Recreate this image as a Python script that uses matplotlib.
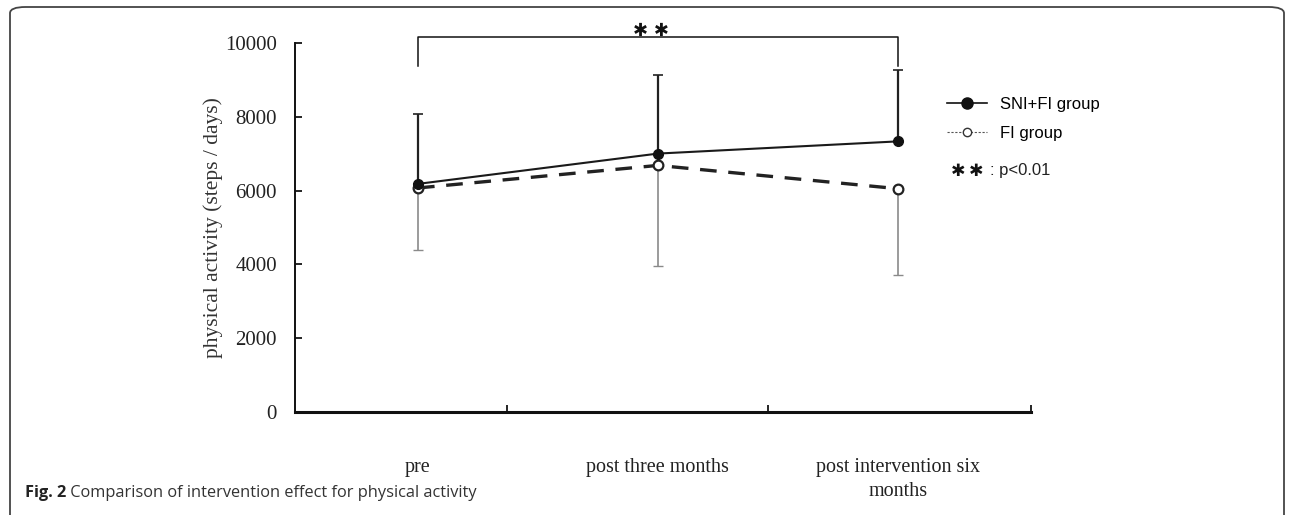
import matplotlib

matplotlib.use("Agg")
import matplotlib.pyplot as plt
from matplotlib.lines import Line2D
from matplotlib.patches import FancyBboxPatch

# values (steps / day)
categories = ["pre", "post three months", "post intervention six\nmonths"]
sni_fi_mean = [6180, 7000, 7330]
sni_fi_sd = [1880, 2130, 1940]
fi_mean = [6070, 6680, 6050]
fi_sd = [1690, 2720, 2330]
bracket_y = 10150
bracket_leg = 9380

W, H = 1292, 515
fig = plt.figure(figsize=(W / 100, H / 100), dpi=100)
ax = fig.add_axes([295 / W, 1 - 412.3 / H, 736 / W, 369.6 / H])

x = list(range(len(categories)))

# SNI+FI: solid line, filled markers, upper error bar only
ax.errorbar(
    x, sni_fi_mean,
    yerr=[[0] * 3, sni_fi_sd],
    fmt="none", ecolor="#222222", elinewidth=1.6, capsize=3.8, capthick=1.2,
    zorder=2,
)
ax.plot(x, sni_fi_mean, color="#1a1a1a", lw=1.5, marker="o", ms=7,
        mfc="#111111", mec="#111111", zorder=4)

# FI: dashed line, open markers, lower error bar only
ax.errorbar(
    x, fi_mean,
    yerr=[fi_sd, [0] * 3],
    fmt="none", ecolor="#8a8a8a", elinewidth=1.2, capsize=3.8, capthick=1.0,
    zorder=2,
)
ax.plot(x, fi_mean, color="#222222", lw=2.4, ls=(0, (5, 3.5)), marker="o",
        ms=7, mfc="white", mec="#222222", mew=1.6, zorder=3)

# significance bracket
ax.plot([x[0], x[0], x[-1], x[-1]], [bracket_leg, bracket_y, bracket_y, bracket_leg],
        color="#111111", lw=1.1, clip_on=False)
ax.text((x[0] + x[-1]) / 2 - 0.03, bracket_y - 80, "\u2731 \u2731", ha="center", va="bottom",
        fontsize=13, family="DejaVu Sans", color="#111111")

ax.set_xlim(-0.5125, 2.555)
ax.set_ylim(0, 10000)
ax.set_yticks(range(0, 10001, 2000))
ax.set_xticks(x)
ax.set_xticklabels(categories, family="Liberation Serif", fontsize=14.5,
                   multialignment="center", color="#222222", linespacing=1.35)
ax.set_xticks([0.372, 1.459, 2.555], minor=True)
ax.tick_params(axis="x", which="major", length=0, pad=33)
ax.tick_params(axis="x", which="minor", direction="in", length=5, width=1.2)
ax.tick_params(axis="y", direction="in", length=5, width=1.2, pad=13,
               labelsize=15, labelcolor="#222222")
for lab in ax.get_yticklabels():
    lab.set_family("Liberation Serif")

for s in ["top", "right"]:
    ax.spines[s].set_visible(False)
ax.spines["left"].set_linewidth(1.4)
ax.spines["bottom"].set_linewidth(2.2)
ax.spines["left"].set_color("#111111")
ax.spines["bottom"].set_color("#111111")

fig.text(213 / W, 1 - 228 / H, "physical activity (steps / days)", rotation=90,
         ha="center", va="center", family="Liberation Serif", fontsize=15.5,
         color="#333333")

# legend
handles = [
    Line2D([], [], color="#111111", lw=1.2, marker="o", ms=8, mfc="#111111"),
    Line2D([], [], color="#555555", lw=0.8, ls=(0, (2, 1.5)), marker="o", ms=6,
           mfc="white", mec="#333333", mew=1.0),
]
fig.legend(handles, ["SNI+FI group", "FI group"], loc="upper left",
           bbox_to_anchor=(940 / W, 1 - 90 / H), frameon=False,
           prop={"family": "Liberation Sans", "size": 12}, handlelength=2.4,
           handletextpad=0.8, labelspacing=0.85, borderaxespad=0)
fig.text(951 / W, 1 - 171 / H, "\u2731\u2009\u2731", ha="left", va="center",
         fontsize=12.5, family="DejaVu Sans", color="#111111")
fig.text(990 / W, 1 - 170 / H, ": p<0.01", ha="left", va="center",
         fontsize=12, family="Liberation Sans", color="#222222")

# caption
t1 = fig.text(25 / W, 1 - 497 / H, "Fig. 2", ha="left", va="baseline",
              family="Open Sans", weight="bold", fontsize=11.8, color="#222222")
ax.annotate(" Comparison of intervention effect for physical activity",
            xy=(1, 0), xycoords=t1, va="bottom", ha="left",
            family="Open Sans", fontsize=11.8, color="#333333",
            annotation_clip=False)

# rounded frame around the figure
frame = FancyBboxPatch((10 / W, -20 / H), 1274 / W, 528 / H,
                       boxstyle="round,pad=0,rounding_size=0.012",
                       transform=fig.transFigure, fill=False,
                       edgecolor="#444444", lw=1.3, clip_on=False)
fig.patches.append(frame)

fig.savefig("out.png", dpi=100)
